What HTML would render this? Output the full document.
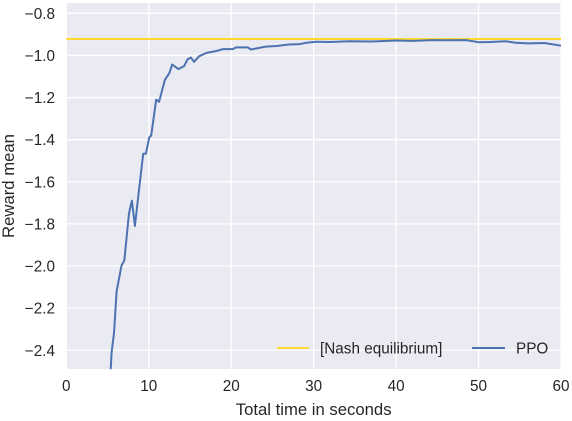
<!DOCTYPE html>
<html><head><meta charset="utf-8"><style>
body{margin:0;background:#fff;}
svg{display:block;font-family:"Liberation Sans",sans-serif;}
</style></head><body>
<svg id="chart" width="572" height="421"></svg>
<script>
const xTicks=[0,10,20,30,40,50,60];
const yTicks=[-2.4,-2.2,-2.0,-1.8,-1.6,-1.4,-1.2,-1.0,-0.8];
const nashValue=-0.922;
const ppoX=[5.38,5.5,5.78,6.1,6.7,7.03,7.6,7.96,8.32,8.9,9.33,9.65,10.06,10.3,10.9,11.26,11.95,12.5,12.85,13.6,14.3,14.7,15.1,15.5,16.1,17.0,18.1,19.0,20.2,20.6,22,22.4,24.2,25.5,27,28.3,29.1,30.3,32,34.3,37,40,42,44.4,46,48.5,50,51.5,53.3,54.5,56,58,60];
const ppoY=[-2.49,-2.41,-2.32,-2.12,-1.998,-1.974,-1.75,-1.69,-1.81,-1.61,-1.467,-1.467,-1.39,-1.38,-1.21,-1.22,-1.117,-1.083,-1.043,-1.065,-1.05,-1.019,-1.01,-1.03,-1.004,-0.988,-0.98,-0.97,-0.97,-0.962,-0.962,-0.972,-0.958,-0.955,-0.948,-0.946,-0.94,-0.935,-0.936,-0.933,-0.934,-0.929,-0.931,-0.927,-0.928,-0.927,-0.937,-0.936,-0.933,-0.94,-0.943,-0.941,-0.954];
const L=66.3,R=561,T=3,B=369;
const x0=0,x1=60,y0=-2.489,y1=-0.751;
const sx=v=>L+(v-x0)/(x1-x0)*(R-L);
const sy=v=>B-(v-y0)/(y1-y0)*(B-T);
const svg=document.getElementById('chart');
const NS='http://www.w3.org/2000/svg';
function mk(tag,attrs,parent){const e=document.createElementNS(NS,tag);for(const k in attrs)e.setAttribute(k,attrs[k]);(parent||svg).appendChild(e);return e;}
const bg=mk('rect',{x:L,y:T,width:R-L,height:B-T,fill:'#EAEAF2'});


xTicks.forEach(t=>{
  const g=mk('line',{x1:sx(t),x2:sx(t),y1:T,y2:B,stroke:'#fff','stroke-width':1.3});
  
  
  const tx=mk('text',{x:sx(t),y:391,'text-anchor':'middle','font-size':15.3,fill:'#262626'});
  tx.textContent=t;
  
  
});
yTicks.forEach(t=>{
  const g=mk('line',{x1:L,x2:R,y1:sy(t),y2:sy(t),stroke:'#fff','stroke-width':1.3});
  
  
  const tx=mk('text',{x:55,y:sy(t)+5.5,'text-anchor':'end','font-size':15.3,fill:'#262626'});
  tx.textContent=t.toFixed(1).replace('-','\u2212');
  
  
});
const nash=mk('line',{x1:L,x2:R,y1:sy(nashValue),y2:sy(nashValue),stroke:'#FFD92F','stroke-width':2});


const d=ppoX.map((v,i)=>(i?'L':'M')+sx(v).toFixed(1)+','+sy(ppoY[i]).toFixed(1)).join('');
const ppo=mk('path',{d:d,fill:'none',stroke:'#4C72B0','stroke-width':2,'stroke-linejoin':'round'});


const lg=mk('g',{});


mk('line',{x1:277,x2:309,y1:348,y2:348,stroke:'#FFD92F','stroke-width':2},lg);
const t1=mk('text',{x:320,y:353.5,'font-size':15.3,fill:'#262626'},lg);t1.textContent='[Nash equilibrium]';


mk('line',{x1:472,x2:505,y1:348,y2:348,stroke:'#4C72B0','stroke-width':2},lg);
const t2=mk('text',{x:516,y:353.5,'font-size':15.3,fill:'#262626'},lg);t2.textContent='PPO';


const xl=mk('text',{x:(L+R)/2,y:415,'text-anchor':'middle','font-size':16.7,fill:'#262626'});
xl.textContent='Total time in seconds';


const yl=mk('text',{x:0,y:0,'text-anchor':'middle','font-size':16.7,fill:'#262626',transform:'translate(14,'+((T+B)/2)+') rotate(-90)'});
yl.textContent='Reward mean';


</script>
</body></html>
